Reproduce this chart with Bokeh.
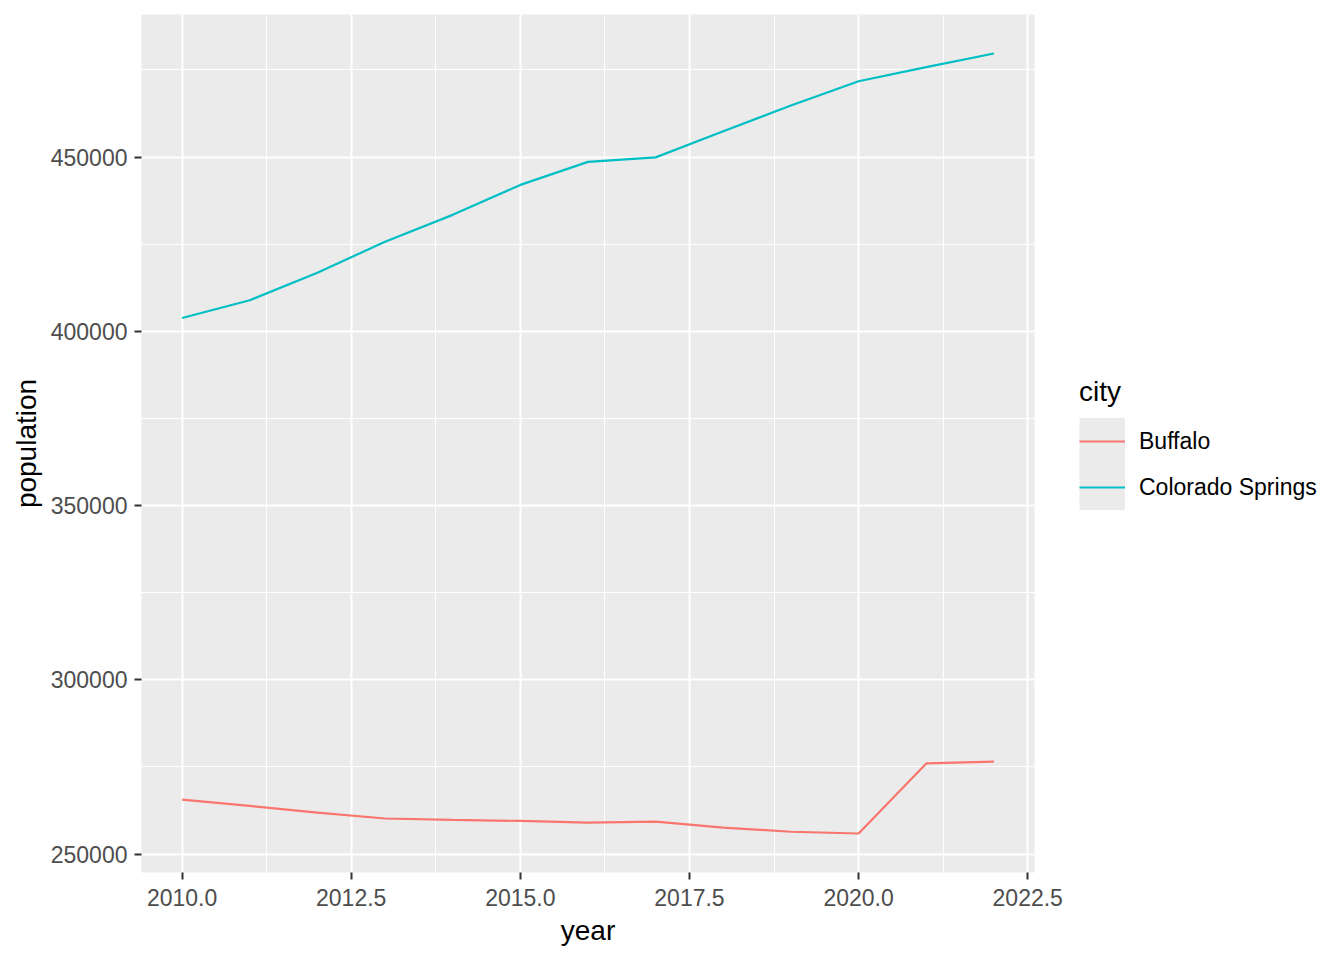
from bokeh.plotting import figure
from bokeh.models import FixedTicker, Legend, LegendItem, ColumnDataSource
from bokeh.embed import file_html
from bokeh.resources import INLINE

years = [2010, 2011, 2012, 2013, 2014, 2015, 2016, 2017, 2018, 2019, 2020, 2021, 2022]
buffalo = [265600, 263800, 261900, 260200, 259800, 259500, 259000, 259300, 257600, 256400, 255900, 276000, 276500]
colorado_springs = [403800, 408900, 416800, 425700, 433400, 442000, 448600, 449900, 457400, 464800, 471750, 475800, 479700]
cities = ["Buffalo", "Colorado Springs"]
city_colors = ["#F8766D", "#00BFC4"]

x_ticks = [2010, 2012.5, 2015, 2017.5, 2020, 2022.5]
x_tick_labels = ["2010.0", "2012.5", "2015.0", "2017.5", "2020.0", "2022.5"]
x_minor = [2011.25, 2013.75, 2016.25, 2018.75, 2021.25]
y_ticks = [250000, 300000, 350000, 400000, 450000]
y_tick_labels = ["250000", "300000", "350000", "400000", "450000"]
y_minor = [275000, 325000, 375000, 425000, 475000]

FONT = "Liberation Sans"

all_vals = buffalo + colorado_springs
ymin, ymax = min(all_vals), max(all_vals)
yext = (ymax - ymin) * 0.05
xext = (max(years) - min(years)) * 0.05

p = figure(
    output_backend="svg", toolbar_location=None,
    frame_width=893, frame_height=858,
    min_border_left=141, min_border_right=310, min_border_top=14, min_border_bottom=88,
    x_range=(min(years) - xext, max(years) + xext),
    y_range=(ymin - yext, ymax + yext),
    background_fill_color="#EBEBEB", border_fill_color="white",
)
p.outline_line_color = None

src = ColumnDataSource(dict(year=years, buffalo=buffalo, cs=colorado_springs))
r_buf = p.line("year", "buffalo", source=src, line_color=city_colors[0], line_width=2.2)
r_cs = p.line("year", "cs", source=src, line_color=city_colors[1], line_width=2.2)
# legend key background (zero-length line, only visible in the legend)
bg_src = ColumnDataSource(dict(x=[years[0], years[0]], y=[buffalo[0], buffalo[0]]))
bg = p.line("x", "y", source=bg_src, line_color="#EBEBEB", line_width=48, line_alpha=1)

p.xaxis.ticker = FixedTicker(ticks=x_ticks, minor_ticks=x_minor)
p.xaxis.major_label_overrides = {t: l for t, l in zip(x_ticks, x_tick_labels)}
p.yaxis.ticker = FixedTicker(ticks=y_ticks, minor_ticks=y_minor)
p.yaxis.major_label_overrides = {t: l for t, l in zip(y_ticks, y_tick_labels)}

for ax in (p.xaxis, p.yaxis):
    ax.axis_line_color = None
    ax.major_tick_line_color = "#333333"
    ax.major_tick_line_width = 2
    ax.major_tick_out = 7
    ax.major_tick_in = 0
    ax.minor_tick_line_color = None
    ax.major_label_text_font = FONT
    ax.major_label_text_font_size = "23px"
    ax.major_label_text_color = "#4D4D4D"
    ax.major_label_standoff = 7
    ax.axis_label_text_font = FONT
    ax.axis_label_text_font_size = "28px"
    ax.axis_label_text_font_style = "normal"
    ax.axis_label_text_color = "black"
    ax.axis_label_standoff = 6

p.xaxis.major_label_standoff = 9
p.xaxis.axis_label = "year"
p.yaxis.axis_label = "population"

for g in (p.xgrid, p.ygrid):
    g.grid_line_color = "white"
    g.grid_line_width = 2
    g.minor_grid_line_color = "white"
    g.minor_grid_line_width = 1

legend = Legend(
    items=[LegendItem(label=cities[0], renderers=[bg, r_buf]),
           LegendItem(label=cities[1], renderers=[bg, r_cs])],
    location="center_left",
    title="city",
    title_text_font=FONT, title_text_font_size="28px", title_text_font_style="normal",
    title_text_color="black", title_standoff=10,
    label_text_font=FONT, label_text_font_size="23px", label_text_color="black",
    glyph_width=46, glyph_height=46, label_height=46, label_standoff=14,
    spacing=0, padding=0, margin=45,
    border_line_color=None, background_fill_alpha=0,
)
p.add_layout(legend, "right")

open("out.html", "w").write(file_html(p, INLINE))
